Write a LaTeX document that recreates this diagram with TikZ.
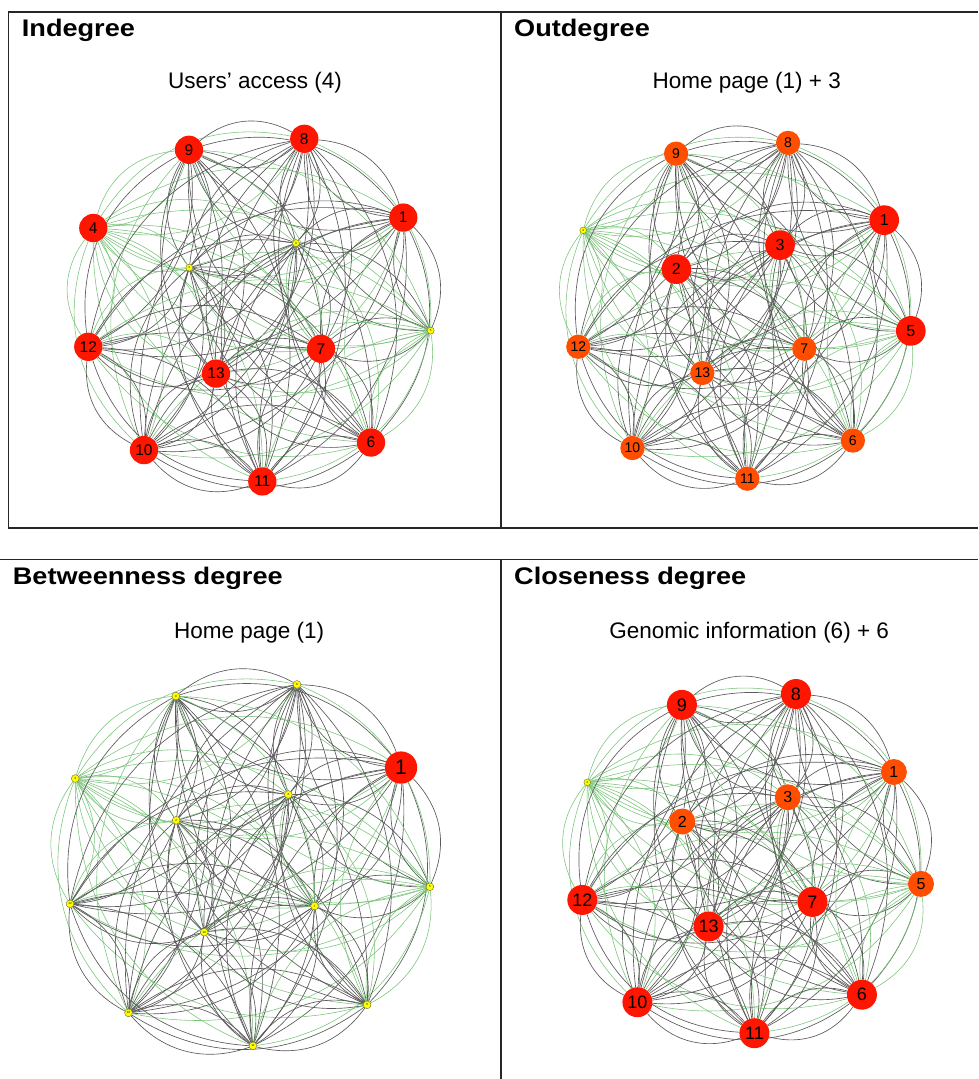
\documentclass[tikz,border=0pt]{standalone}
\usepackage{fontspec}
\setmainfont{Liberation Sans}
\newfontfamily\headfont{Liberation Sans}[FakeStretch=1.13]
\usetikzlibrary{backgrounds}
\definecolor{nodered}{RGB}{255,22,0}
\definecolor{nodeorange}{RGB}{255,78,0}
\definecolor{dotyellow}{RGB}{255,255,0}
\definecolor{arcgray}{RGB}{90,90,90}
\definecolor{arcgreen}{RGB}{120,196,120}
\tikzset{
  frameline/.style={draw=black!85, line width=1.3pt},
  paneltitle/.style={anchor=base west, inner sep=0pt,
                     font=\headfont\bfseries\fontsize{24}{28}\selectfont},
  panelsub/.style={anchor=base, inner sep=0pt, font=\fontsize{22.5}{26}\selectfont},
  vtx/.style={circle, inner sep=0pt, text=black},
  rednode/.style={vtx, fill=nodered, minimum size=#1},
  orangenode/.style={vtx, fill=nodeorange, minimum size=#1},
  dotnode/.style={vtx, fill=dotyellow, draw=olive!70!black, line width=0.4pt,
                  minimum size=#1, font=\fontsize{3}{3}\selectfont},
  lbl/.style={font=\fontsize{#1}{#1}\selectfont},
  grayarc/.style={draw=arcgray, line width=0.65pt},
  greenarc/.style={draw=arcgreen, line width=0.55pt},
}
% common layout of the 13 pages (panel 1 pixels)
\newcommand{\vxs}{{0,403.3,189.3,296.0,93.3,430.7,371.0,321.0,304.3,189.0,144.0,262.3,88.3,216.0}}
\newcommand{\vys}{{0,217.6,267.6,243.1,228.0,330.6,442.5,348.8,138.8,149.8,450.1,481.4,346.8,373.6}}
% every ordered pair gets its own arc
\newcommand{\drawarcs}[1]{%
  \foreach \a in {1,...,13}{%
    \foreach \b in {1,...,13}{%
      \ifnum\a=\b\relax\else
        \pgfmathtruncatemacro\isgreen{(\a==4)||(\b==4)||(((\a==5)||(\b==5))&&(\a!=1)&&(\b!=1)&&(\a!=3)&&(\b!=3)&&(\a!=7)&&(\b!=7)&&(\a!=8)&&(\b!=8))||(mod(\a*5+\b*3,11)==0)}%
        \ifnum\isgreen=1
          \draw[greenarc] (#1n\a) to[bend left=34] (#1n\b);
        \else
          \draw[grayarc] (#1n\a) to[bend left=34] (#1n\b);
        \fi
      \fi}}}
\begin{document}
\begin{tikzpicture}[x=1pt,y=-1pt]
\useasboundingbox (0,0) rectangle (978,1079);
\begin{scope}[on background layer]
  \fill[white] (0,0) rectangle (978,1079);
\end{scope}

% table frames
\draw[frameline] (978,12) -- (8.3,12) -- (8.3,528) -- (978,528);
\draw[frameline] (501,12) -- (501,528);
\draw[frameline] (0,559.6) -- (978,559.6);
\draw[frameline] (501,559.6) -- (501,1079);

% headings
\node[paneltitle] (t1) at (21.7,36) {Indegree};
\node[paneltitle] (t2) at (514,36) {Outdegree};
\node[paneltitle] (t3) at (12.7,584.7) {Betweenness degree};
\node[paneltitle] (t4) at (514,584.7) {Closeness degree};
\node[panelsub] (s1) at (255,88) {Users' access (4)};
\node[panelsub] (s2) at (746.7,88) {Home page (1) + 3};
\node[panelsub] (s3) at (249.2,638) {Home page (1)};
\node[panelsub] (s4) at (749.2,638) {Genomic information (6) + 6};

% Indegree
\begin{scope}
  \foreach \n in {1,4,6,7,8,9,10,11,12,13}
    \node[rednode=28.3, lbl=15.5] (p1n\n) at ({\vxs[\n]},{\vys[\n]}) {\n};
  \foreach \n in {2,3,5}
    \node[dotnode=7] (p1n\n) at ({\vxs[\n]},{\vys[\n]}) {\n};
  \begin{scope}[on background layer]
    \drawarcs{p1}
  \end{scope}
\end{scope}

% Outdegree
\begin{scope}[shift={(492.6,6.9)}, xscale=0.971, yscale=0.98]
  \foreach \n in {1,2,3,5}
    \node[rednode=29.7, lbl=16] (p2n\n) at ({\vxs[\n]},{\vys[\n]}) {\n};
  \foreach \n in {6,7,8,9,10,11,12,13}
    \node[orangenode=24.3, lbl=14] (p2n\n) at ({\vxs[\n]},{\vys[\n]}) {\n};
  \node[dotnode=6.7] (p2n4) at ({\vxs[4]},{\vys[4]}) {4};
  \begin{scope}[on background layer]
    \drawarcs{p2}
  \end{scope}
\end{scope}

% Betweenness
\begin{scope}[shift={(-22.8,538.0)}, xscale=1.051, yscale=1.055]
  \node[rednode=32.3, lbl=21] (p3n1) at ({\vxs[1]},{\vys[1]}) {1};
  \foreach \n in {2,...,13}
    \node[dotnode=7.8] (p3n\n) at ({\vxs[\n]},{\vys[\n]}) {\n};
  \begin{scope}[on background layer]
    \drawarcs{p3}
  \end{scope}
\end{scope}

% Closeness
\begin{scope}[shift={(495.0,556.6)}, xscale=0.989, yscale=0.99]
  \foreach \n in {6,7,8,9,10,11,12,13}
    \node[rednode=30, lbl=18] (p4n\n) at ({\vxs[\n]},{\vys[\n]}) {\n};
  \foreach \n in {1,2,3,5}
    \node[orangenode=26, lbl=16] (p4n\n) at ({\vxs[\n]},{\vys[\n]}) {\n};
  \node[dotnode=6.7] (p4n4) at ({\vxs[4]},{\vys[4]}) {4};
  \begin{scope}[on background layer]
    \drawarcs{p4}
  \end{scope}
\end{scope}
\end{tikzpicture}
\end{document}
